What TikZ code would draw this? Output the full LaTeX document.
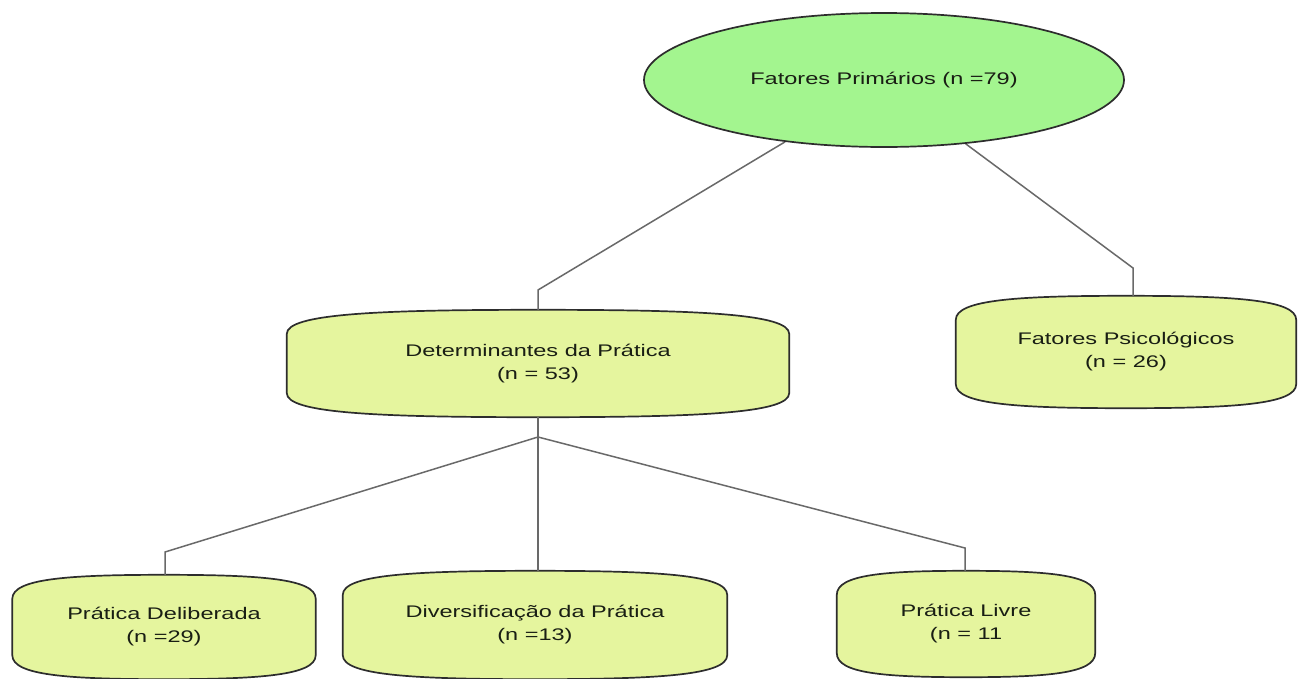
\documentclass[tikz,border=0pt]{standalone}
\usepackage{fontspec}
\setmainfont{Liberation Sans}[FakeStretch=1.4]
\usetikzlibrary{calc,backgrounds,shapes.geometric}
\definecolor{ellfill}{RGB}{163,245,143}
\definecolor{boxfill}{RGB}{229,245,158}
\definecolor{edgecol}{RGB}{45,45,45}
\definecolor{linkcol}{RGB}{105,105,105}
\definecolor{txtcol}{RGB}{25,30,20}
\pgfdeclarelayer{bottom}
\pgfsetlayers{bottom,background,main}
\tikzset{
  boxline/.style={draw=edgecol, line width=1.7pt, fill=boxfill},
  ellnode/.style={ellipse, draw=edgecol, line width=1.7pt, fill=ellfill, inner sep=0pt},
  boxnode/.style={rectangle, inner sep=0pt, align=center, text=txtcol,
    font=\fontsize{16.8}{23}\selectfont},
  link/.style={draw=linkcol, line width=1.5pt, line join=miter},
}
\newcommand\bowbox[1]{%
  \path[boxline] ([yshift=-24pt]#1.north west) -- ([yshift=24pt]#1.south west)
   .. controls ([yshift=4pt]#1.south west) and ($(#1.south west)!0.18!(#1.south east)$) .. (#1.south)
   .. controls ($(#1.south west)!0.82!(#1.south east)$) and ([yshift=4pt]#1.south east) .. ([yshift=24pt]#1.south east)
   -- ([yshift=-24pt]#1.north east)
   .. controls ([yshift=-4pt]#1.north east) and ($(#1.north west)!0.82!(#1.north east)$) .. (#1.north)
   .. controls ($(#1.north west)!0.18!(#1.north east)$) and ([yshift=-4pt]#1.north west) .. cycle;}
\begin{document}
\begin{tikzpicture}[x=1pt,y=-1pt]
\begin{pgfonlayer}{bottom}
\fill[white] (0,0) rectangle (1299,678);
\end{pgfonlayer}
\useasboundingbox (0,0) rectangle (1299,678);
% nodes
\node[ellnode, minimum width=480pt, minimum height=134pt, text=txtcol,
      font=\fontsize{16.8}{20}\selectfont] (prim) at (884,80) {Fatores Primários (n =79)};
\node[boxnode, minimum width=502pt, minimum height=107pt] (det) at (538,363.5) {Determinantes da Prática\\(n = 53)};
\node[boxnode, minimum width=340pt, minimum height=112pt] (psi) at (1126,352) {Fatores Psicológicos\\(n = 26)};
\node[boxnode, minimum width=303pt, minimum height=104pt] (del) at (164,627) {Prática Deliberada\\(n =29)};
\node[boxnode, minimum width=384pt, minimum height=108pt] (div) at (535,625) {Diversificação da Prática\\(n =13)};
\node[boxnode, minimum width=258pt, minimum height=106pt] (liv) at (966,624) {Prática Livre\\(n = 11};
\begin{scope}[on background layer]
  \bowbox{det}\bowbox{psi}\bowbox{del}\bowbox{div}\bowbox{liv}
\end{scope}
% connector bends
\coordinate (b1) at (538,290);
\coordinate (b2) at (1133,268);
\coordinate (j) at (538,437);
\coordinate (b3) at (165,552);
\coordinate (b4) at (965,548);
\coordinate (psitop) at (1133,296);
\coordinate (deltop) at (165,575);
\coordinate (livtop) at (965,571);
\begin{scope}[on background layer]
\draw[link] (prim.212) -- (b1) -- (det.north);
\draw[link] (prim.-38) -- (b2) -- (psitop);
\draw[link] (det.south) -- (j);
\draw[link] (j) -- (b3) -- (deltop);
\draw[link] (j) -- (j |- div.north);
\draw[link] (j) -- (b4) -- (livtop);
\end{scope}
\end{tikzpicture}
\end{document}
